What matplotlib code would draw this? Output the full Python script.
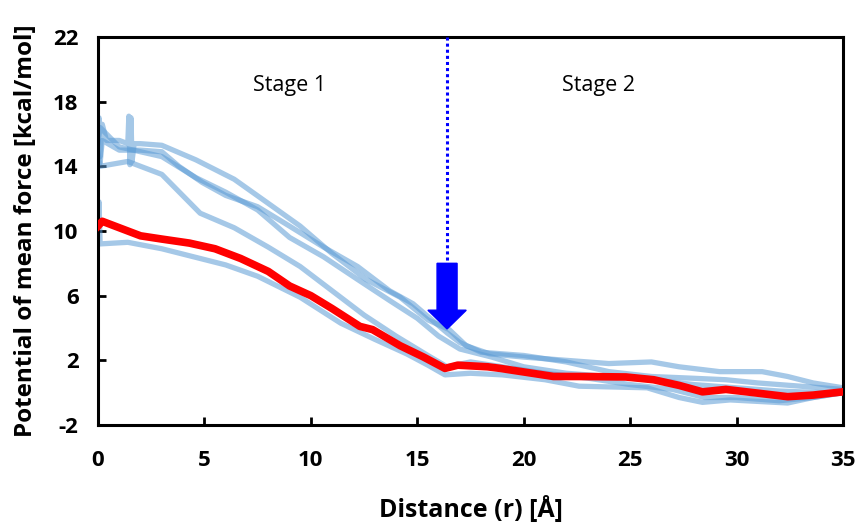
import numpy as np
import matplotlib.pyplot as plt

plt.rcParams['font.family'] = ['Open Sans', 'DejaVu Sans']
plt.rcParams['axes.unicode_minus'] = False

# pulling trajectories
run1_x = [0, 0.05, 0.1, 0.2, 0.4, 1.0, 1.4, 1.45, 1.5, 1.55, 1.6, 1.7, 2.0, 3.0, 4.6, 6.4, 7.9, 9.5, 11.0,
          12.6, 14.2, 15.5, 16.5, 17.3, 18.4, 20.0, 22.0, 24.0, 26.0, 27.3, 29.2, 31.2, 32.4, 33.6, 35.0]
run1_y = [15.8, 17.0, 14.6, 16.6, 15.6, 15.6, 15.4, 17.1, 14.1, 17.0, 14.3, 15.4, 15.4, 15.3, 14.4, 13.2,
          11.8, 10.3, 8.6, 7.0, 5.9, 4.5, 3.9, 2.9, 2.4, 2.2, 2.0, 1.8, 1.9, 1.6, 1.3, 1.3, 1.0, 0.6, 0.3]

run2_x = [0, 0.1, 0.2, 1.0, 2.0, 3.0, 3.8, 4.9, 6.0, 7.5, 9.0, 10.6, 12.2, 13.7, 14.8, 16.4, 17.0, 18.0,
          20.0, 22.0, 24.0, 26.0, 27.8, 29.5, 31.0, 33.0, 35.0]
run2_y = [15.2, 14.2, 15.6, 15.0, 15.0, 14.9, 14.0, 13.0, 12.2, 11.5, 10.3, 9.0, 7.8, 6.3, 5.5, 3.7, 3.1,
          2.5, 2.3, 1.9, 1.3, 1.0, 0.9, 0.8, 0.6, 0.4, 0.2]

run3_x = [0, 0.1, 1.0, 2.0, 3.0, 4.6, 6.0, 7.5, 9.0, 10.6, 12.2, 13.7, 15.0, 16.0, 17.0, 18.5, 20.0,
          22.0, 24.0, 26.0, 28.0, 30.0, 32.0, 34.0, 35.0]
run3_y = [15.5, 16.4, 15.2, 14.9, 14.6, 13.3, 12.4, 11.3, 9.6, 8.4, 7.0, 5.7, 4.6, 3.5, 2.7, 2.2, 1.6,
          1.2, 1.0, 0.8, 0.5, 0.3, 0.1, 0.0, 0.0]

run4_x = [0, 0.1, 1.4, 3.0, 4.8, 6.4, 8.0, 9.5, 11.0, 12.5, 14.0, 15.5, 16.4, 17.5, 19.0, 21.0, 23.0,
          25.0, 27.0, 28.5, 30.0, 32.0, 33.6, 35.0]
run4_y = [14.8, 14.0, 14.3, 13.5, 11.1, 10.2, 9.0, 7.8, 6.3, 4.8, 3.5, 2.3, 1.6, 1.9, 1.6, 1.2, 0.9,
          0.5, 0.2, -0.3, -0.3, -0.5, -0.3, 0.0]

run5_x = [0, 0.05, 0.1, 1.4, 3.0, 4.8, 6.0, 7.5, 9.5, 11.4, 13.0, 14.5, 15.5, 16.3, 17.5, 19.0, 21.0,
          22.6, 25.8, 27.3, 28.4, 29.7, 32.4, 33.6, 35.0]
run5_y = [9.6, 11.8, 9.2, 9.3, 8.9, 8.3, 7.9, 7.2, 5.9, 4.3, 3.3, 2.4, 1.7, 1.1, 1.2, 1.1, 0.8,
          0.4, 0.3, -0.3, -0.6, -0.45, -0.64, -0.3, 0.0]

# average PMF
avg_x = [0, 0.2, 1.0, 2.0, 3.0, 4.3, 5.5, 6.7, 8.0, 9.0, 10.0, 11.0, 12.3, 12.9, 14.2, 15.3, 16.3,
         16.9, 18.3, 18.9, 20.4, 21.4, 22.6, 24.8, 26.1, 27.3, 28.4, 29.5, 30.8, 32.4, 33.6, 35.0]
avg_y = [10.3, 10.6, 10.2, 9.7, 9.5, 9.25, 8.9, 8.3, 7.5, 6.6, 6.0, 5.2, 4.1, 3.9, 2.9, 2.2, 1.5,
         1.7, 1.6, 1.5, 1.2, 1.0, 1.0, 0.97, 0.8, 0.45, 0.05, 0.2, 0.0, -0.25, -0.15, 0.05]

runs = [(run1_x, run1_y), (run2_x, run2_y), (run3_x, run3_y), (run4_x, run4_y), (run5_x, run5_y)]

x_ticks = [0, 5, 10, 15, 20, 25, 30, 35]
y_ticks = [-2, 2, 6, 10, 14, 18, 22]

split_r = 16.4      # boundary between the two stages
arrow_top = 8.0
arrow_tip = 3.94

fig = plt.figure(figsize=(8.58, 5.23), dpi=100)
ax = fig.add_axes([0.1142, 0.1874, 0.8683, 0.7419])

for xs, ys in runs:
    ax.plot(xs, ys, color='#5b9bd5', lw=3.8, alpha=0.55, solid_joinstyle='round')
ax.plot(avg_x, avg_y, color='#ff0000', lw=5.5, solid_joinstyle='round', zorder=5)

# stage boundary + arrow
ax.plot([split_r, split_r], [22, arrow_top], color='#0000ff', lw=2.2, linestyle=(0, (1, 1)), zorder=6)
ax.arrow(split_r, arrow_top, 0, arrow_tip - arrow_top, width=0.94, head_width=1.8, head_length=1.16,
         length_includes_head=True, color='#0000ff', zorder=7)

ax.text(9.0, 19.0, 'Stage 1', ha='center', va='center', fontsize=15.5)
ax.text(23.5, 19.0, 'Stage 2', ha='center', va='center', fontsize=15.5)

ax.set_xlim(0, 35)
ax.set_ylim(-2, 22)
ax.set_xticks(x_ticks)
ax.set_yticks(y_ticks)
ax.tick_params(direction='in', length=6, width=2, labelsize=16)
ax.tick_params(axis='x', pad=18)
ax.tick_params(axis='y', pad=14)
for lab in ax.get_xticklabels() + ax.get_yticklabels():
    lab.set_fontweight('bold')
for sp in ax.spines.values():
    sp.set_linewidth(2.2)

ax.set_xlabel('Distance (r) [Å]', fontsize=18, fontweight='bold', labelpad=18)
ax.set_ylabel('Potential of mean force [kcal/mol]', fontsize=17.5, fontweight='bold', labelpad=11)

fig.savefig('out.png', dpi=100)
